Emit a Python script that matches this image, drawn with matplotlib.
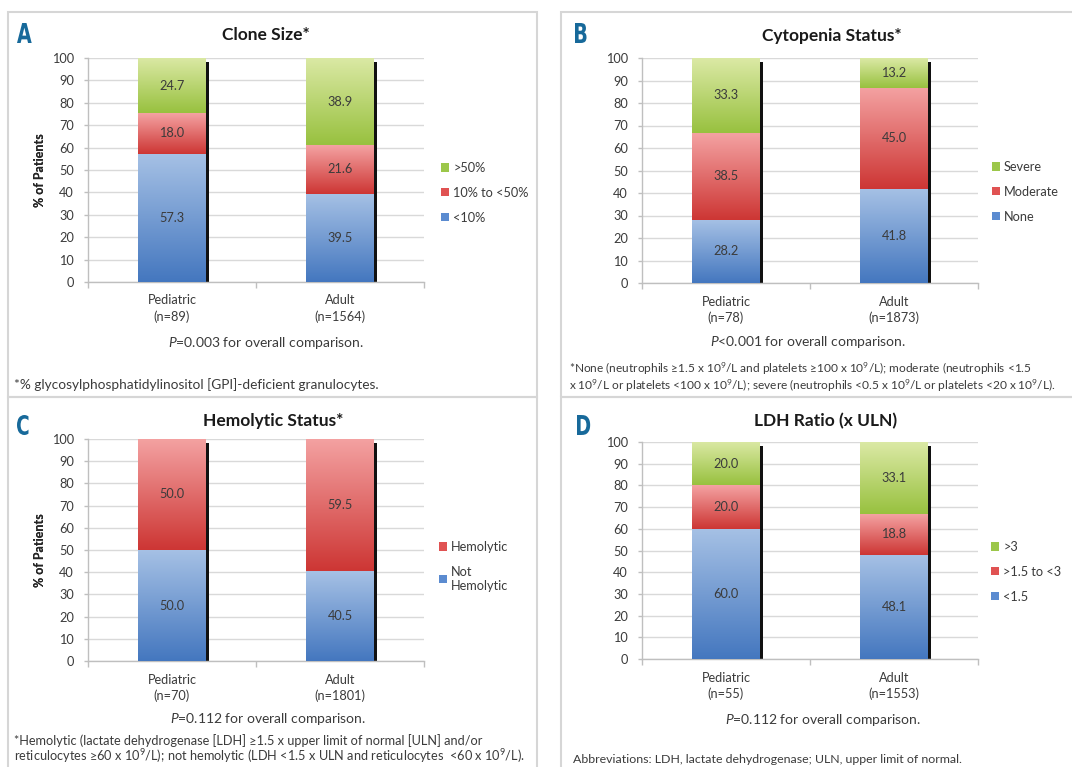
import numpy as np
import matplotlib
matplotlib.use('Agg')
import matplotlib.pyplot as plt
from matplotlib.colors import LinearSegmentedColormap
from matplotlib.patches import Rectangle, Patch, PathPatch
from matplotlib.textpath import TextPath
from matplotlib.font_manager import FontProperties
from matplotlib.transforms import Affine2D

plt.rcParams['font.family'] = ['Lato', 'DejaVu Sans']
plt.rcParams['mathtext.fontset'] = 'custom'
plt.rcParams['mathtext.rm'] = 'Lato'
plt.rcParams['mathtext.it'] = 'Lato:italic'

# ---- data (bottom segment first) ----
clone_labels = ['<10%', '10% to <50%', '>50%']
clone_ped = [57.3, 18.0, 24.7]
clone_adult = [39.5, 21.6, 38.9]
clone_groups = ['Pediatric\n(n=89)', 'Adult\n(n=1564)']

cyto_labels = ['None', 'Moderate', 'Severe']
cyto_ped = [28.2, 38.5, 33.3]
cyto_adult = [41.8, 45.0, 13.2]
cyto_groups = ['Pediatric\n(n=78)', 'Adult\n(n=1873)']

hemo_labels = ['Not\nHemolytic', 'Hemolytic']
hemo_ped = [50.0, 50.0]
hemo_adult = [40.5, 59.5]
hemo_groups = ['Pediatric\n(n=70)', 'Adult\n(n=1801)']

ldh_labels = ['<1.5', '>1.5 to <3', '>3']
ldh_ped = [60.0, 20.0, 20.0]
ldh_adult = [48.1, 18.8, 33.1]
ldh_groups = ['Pediatric\n(n=55)', 'Adult\n(n=1553)']

# gradient colours (dark bottom, light top) and legend colour
blue = ('#4477bf', '#a6c1e5', '#5b8bd0')
red = ('#cd3634', '#f4a2a2', '#e05252')
green = ('#98c13f', '#dbe9a5', '#9cc74a')

W, H = 1072, 767
fig = plt.figure(figsize=(W / 100, H / 100), dpi=100)
fig.patch.set_facecolor('white')

TXT = '#3b3b3b'
GRID = '#d9d9d9'
SPINE = '#bfbfbf'
SUP9 = '$^{9}$'


def fx(x):
    return x / W


def fy(y):
    return 1 - y / H


def gradient_bar(ax, x, bottom, height, width, cols):
    bar = ax.bar(x, height, width, bottom=bottom, color='none', zorder=3)[0]
    cmap = LinearSegmentedColormap.from_list('g', [cols[0], cols[1]])
    grad = np.linspace(0, 1, 128).reshape(-1, 1)
    im = ax.imshow(grad, cmap=cmap, origin='lower', aspect='auto', zorder=3,
                   extent=[x - width / 2, x + width / 2, bottom, bottom + height])
    im.set_clip_path(bar)


def panel_letter(letter, x_left, y_top, y_bottom):
    # condensed bold letter: squeeze a text path horizontally
    tp = TextPath((0, 0), letter, size=100,
                  prop=FontProperties(family='DejaVu Sans', weight='bold'))
    bb = tp.get_extents()
    s = (y_bottom - y_top) / bb.height
    tr = (Affine2D().translate(-bb.x0, -bb.y0).scale(s * 0.7, s)
          .translate(x_left, H - y_bottom))
    fig.add_artist(PathPatch(tp, transform=tr, facecolor='#17699a',
                             edgecolor='none', clip_on=False))


def panel(box, frame, letter, letter_xy, title, title_xy, groups, ped, adult,
          labels, colors, legend_xy, ptext, p_xy, notes, notes_x, notes_base,
          notes_size=8.8):
    l, t, r, b = box
    ax = fig.add_axes([fx(l), fy(b), fx(r - l), (b - t) / H])
    width = 0.4
    px_x = 2.0 / (r - l)
    px_y = 100.0 / (b - t)
    for i, vals in enumerate([ped, adult]):
        # drop shadow on the right
        ax.bar(i + 3.5 * px_x, sum(vals) - 4 * px_y + 1.2 * px_y, width,
               bottom=-1.2 * px_y, color='#111111', zorder=2, clip_on=False)
        bottom = 0
        for v, c in zip(vals, colors):
            gradient_bar(ax, i, bottom, v, width, c)
            ax.text(i, bottom + v / 2, f'{v:.1f}', ha='center', va='center',
                    fontsize=9.2, color=TXT, zorder=5)
            bottom += v
    ax.set_xlim(-0.5, 1.5)
    ax.set_ylim(0, 100)
    ax.set_yticks(range(0, 101, 10))
    ax.set_xticks([0, 1])
    ax.set_xticklabels(groups, fontsize=9.2, color=TXT, linespacing=1.35)
    ax.set_xticks([-0.5, 0.5, 1.5], minor=True)
    ax.tick_params(axis='x', which='major', length=0, pad=9)
    ax.tick_params(axis='x', which='minor', length=4, color=SPINE, width=1)
    ax.tick_params(axis='y', length=3, color=SPINE, width=1, labelsize=9.2,
                   labelcolor=TXT, pad=7)
    ax.grid(axis='y', color=GRID, lw=1, zorder=0)
    ax.set_axisbelow(True)
    for s in ['top', 'right']:
        ax.spines[s].set_visible(False)
    for s in ['left', 'bottom']:
        ax.spines[s].set_color(SPINE)
        ax.spines[s].set_linewidth(1)
    ax.set_ylabel('% of Patients', fontsize=9, fontweight='bold', color='#262626')
    ax.yaxis.set_label_coords((46 - l) / (r - l), 0.5)

    handles = [Patch(facecolor=c[2], edgecolor='none') for c in colors][::-1]
    fig.legend(handles, labels[::-1], loc='upper left',
               bbox_to_anchor=(fx(legend_xy[0] - 2), fy(legend_xy[1] - 8)),
               frameon=False, fontsize=9.2, handlelength=0.6, handleheight=0.6,
               handletextpad=0.35, labelspacing=1.0, borderpad=0,
               borderaxespad=0, labelcolor=TXT)

    fl, ft, fr, fb = frame
    fig.add_artist(Rectangle((fx(fl), fy(fb)), fx(fr - fl), (fb - ft) / H,
                             transform=fig.transFigure, fill=False,
                             edgecolor='#d6d6d6', lw=1.5, clip_on=False))
    panel_letter(letter, *letter_xy)
    fig.text(fx(title_xy[0]), fy(title_xy[1]), title, fontsize=12.5,
             fontweight='bold', color='#1a1a1a', ha='center', va='center')
    fig.text(fx(p_xy[0]), fy(p_xy[1]), ptext, fontsize=10, color=TXT,
             ha='center', va='center')
    # footnote, one text per line so superscripts do not spread the lines
    for line, yb in zip(notes, notes_base):
        fig.text(fx(notes_x), fy(yb), line, fontsize=notes_size, color=TXT,
                 ha='left', va='baseline')
    return ax


panel((88, 58, 424, 282), (8, 12, 537, 397), 'A', (17, 23, 43), 'Clone Size*', (266, 35),
      clone_groups, clone_ped, clone_adult, clone_labels, [blue, red, green],
      (443, 170), '$P$=0.003 for overall comparison.', (266, 343),
      ['*% glycosylphosphatidylinositol [GPI]-deficient granulocytes.'], 14, [389],
      notes_size=9.8)

panel((642, 58, 978, 283), (561, 12, 1080, 397), 'B', (575, 23, 43), 'Cytopenia Status*', (832, 36),
      cyto_groups, cyto_ped, cyto_adult, cyto_labels, [blue, red, green],
      (994, 169), '$P$<0.001 for overall comparison.', (808, 342),
      ['*None (neutrophils \u22651.5 x 10' + SUP9 + '/L and platelets \u2265100 x 10' + SUP9
       + '/L); moderate (neutrophils <1.5',
       'x 10' + SUP9 + '/L or platelets <100 x 10' + SUP9 + '/L); severe (neutrophils <0.5 x 10'
       + SUP9 + '/L or platelets <20 x 10' + SUP9 + '/L).'],
      569, [373, 390], notes_size=8.6)

panel((88, 439, 424, 661), (8, 397, 537, 780), 'C', (17, 415, 435), 'Hemolytic Status*', (273, 421),
      hemo_groups, hemo_ped, hemo_adult, hemo_labels, [blue, red],
      (441, 549), '$P$=0.112 for overall comparison.', (268, 719),
      ['*Hemolytic (lactate dehydrogenase [LDH] \u22651.5 x upper limit of normal [ULN] and/or',
       'reticulocytes \u226560 x 10' + SUP9 + '/L); not hemolytic (LDH <1.5 x ULN and reticulocytes  <60 x 10'
       + SUP9 + '/L).'],
      14, [745, 761], notes_size=9.2)

panel((642, 442, 978, 659), (561, 397, 1080, 780), 'D', (577, 415, 435), 'LDH Ratio (x ULN)', (826, 421),
      ldh_groups, ldh_ped, ldh_adult, ldh_labels, [blue, red, green],
      (993, 549), '$P$=0.112 for overall comparison.', (823, 720),
      ['Abbreviations: LDH, lactate dehydrogenase; ULN, upper limit of normal.'], 573, [763],
      notes_size=8.9)

fig.savefig('out.png', dpi=100, facecolor='white')
